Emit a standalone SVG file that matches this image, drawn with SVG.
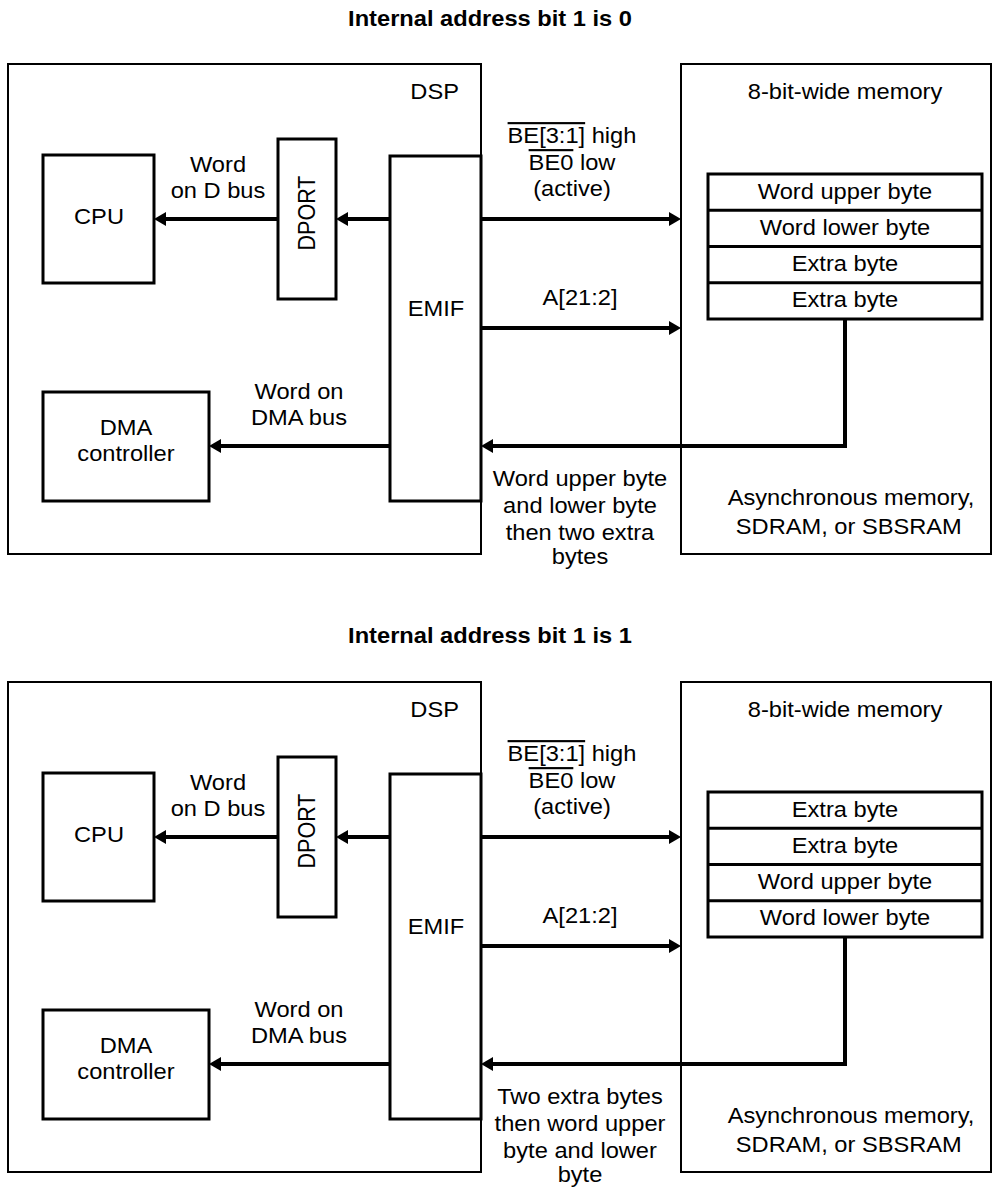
<svg xmlns="http://www.w3.org/2000/svg" width="999" height="1192" viewBox="0 0 999 1192">
<style>
text{font-family:"Liberation Sans",Arial,Helvetica,sans-serif;font-size:21.5px;fill:#000}
.t{font-weight:bold}
.m{text-anchor:middle}
.e{text-anchor:end}
.ol{text-decoration:overline}
.thin{fill:none;stroke:#000;stroke-width:2}
.box{fill:#fff;stroke:#000;stroke-width:3}
.div{stroke:#000;stroke-width:3}
.conn{fill:none;stroke:#000;stroke-width:4;marker-end:url(#ah)}
</style>
<defs>
<marker id="ah" markerUnits="userSpaceOnUse" markerWidth="14" markerHeight="14" refX="6" refY="7" orient="auto">
<path d="M0,0 L12,7 L0,14 z" fill="#000"/>
</marker>
</defs>
<rect width="999" height="1192" fill="#fff"/>

<!-- ===== Section 1 ===== -->
<g id="section0">
<text id="title0" class="t m" transform="translate(490,26) scale(1.1,1)">Internal address bit 1 is 0</text>
<g id="dsp0"><rect class="thin" x="8" y="64" width="473" height="490"/><text class="e" transform="translate(459,99) scale(1.1,1)">DSP</text></g>
<g id="mem0"><rect class="thin" x="681" y="64" width="310" height="490"/>
<text class="m" transform="translate(845,99) scale(1.1,1)">8-bit-wide memory</text>
<text class="m" transform="translate(851,505) scale(1.1,1)"><tspan x="0" y="0">Asynchronous memory,</tspan><tspan x="-2" y="29">SDRAM, or SBSRAM</tspan></text></g>
<g id="cpu0"><rect class="box" x="43" y="155" width="111" height="128"/><text class="m" transform="translate(99,224) scale(1.1,1)">CPU</text></g>
<g id="dport0"><rect class="box" x="278" y="139" width="58" height="160"/><text class="m" transform="translate(315,213) rotate(-90) scale(1,1.12)">DPORT</text></g>
<g id="dma0"><rect class="box" x="43" y="392" width="166" height="109"/><text class="m" transform="translate(126,435) scale(1.1,1)"><tspan x="0" y="0">DMA</tspan><tspan x="0" y="26.5">controller</tspan></text></g>
<g id="stack0"><rect class="box" x="708" y="174" width="274" height="145"/>
<line class="div" x1="708" y1="210.25" x2="982" y2="210.25"/><line class="div" x1="708" y1="246.5" x2="982" y2="246.5"/><line class="div" x1="708" y1="282.75" x2="982" y2="282.75"/>
<text class="m" transform="translate(845,198.5) scale(1.1,1)">Word upper byte</text>
<text class="m" transform="translate(845,234.5) scale(1.1,1)">Word lower byte</text>
<text class="m" transform="translate(845,271) scale(1.1,1)">Extra byte</text>
<text class="m" transform="translate(845,307) scale(1.1,1)">Extra byte</text></g>
<g id="emif0"><rect class="box" x="390" y="156" width="91" height="345"/><text class="m" transform="translate(436,316) scale(1.1,1)">EMIF</text></g>
<g id="connectors0">
<path class="conn" d="M390,219 H342"/>
<path class="conn" d="M278,219 H160"/>
<path class="conn" d="M481,219 H675"/>
<path class="conn" d="M481,328 H675"/>
<path class="conn" d="M845,319 V446 H487"/>
<path class="conn" d="M390,446 H215"/>
<text class="m" transform="translate(218,172) scale(1.1,1)"><tspan x="0" y="0">Word</tspan><tspan x="0" y="26">on D bus</tspan></text>
<text class="m" transform="translate(572,143) scale(1.1,1)"><tspan x="0" y="0"><tspan class="ol">BE[3:1]</tspan> high</tspan><tspan x="0" y="27"><tspan class="ol">BE0</tspan> low</tspan><tspan x="0" y="53">(active)</tspan></text>
<text class="m" transform="translate(580,305) scale(1.1,1)">A[21:2]</text>
<text class="m" transform="translate(299,399) scale(1.1,1)"><tspan x="0" y="0">Word on</tspan><tspan x="0" y="26">DMA bus</tspan></text>
<text class="m" transform="translate(580,486) scale(1.1,1)"><tspan x="0" y="0">Word upper byte</tspan><tspan x="0" y="27">and lower byte</tspan><tspan x="0" y="54">then two extra</tspan><tspan x="0" y="78">bytes</tspan></text>
</g>
</g>

<!-- ===== Section 2 ===== -->
<g id="section1" transform="translate(0,618)">
<text id="title1" class="t m" transform="translate(490,25) scale(1.1,1)">Internal address bit 1 is 1</text>
<g id="dsp1"><rect class="thin" x="8" y="64" width="473" height="490"/><text class="e" transform="translate(459,99) scale(1.1,1)">DSP</text></g>
<g id="mem1"><rect class="thin" x="681" y="64" width="310" height="490"/>
<text class="m" transform="translate(845,99) scale(1.1,1)">8-bit-wide memory</text>
<text class="m" transform="translate(851,505) scale(1.1,1)"><tspan x="0" y="0">Asynchronous memory,</tspan><tspan x="-2" y="29">SDRAM, or SBSRAM</tspan></text></g>
<g id="cpu1"><rect class="box" x="43" y="155" width="111" height="128"/><text class="m" transform="translate(99,224) scale(1.1,1)">CPU</text></g>
<g id="dport1"><rect class="box" x="278" y="139" width="58" height="160"/><text class="m" transform="translate(315,213) rotate(-90) scale(1,1.12)">DPORT</text></g>
<g id="dma1"><rect class="box" x="43" y="392" width="166" height="109"/><text class="m" transform="translate(126,435) scale(1.1,1)"><tspan x="0" y="0">DMA</tspan><tspan x="0" y="26.5">controller</tspan></text></g>
<g id="stack1"><rect class="box" x="708" y="174" width="274" height="145"/>
<line class="div" x1="708" y1="210.25" x2="982" y2="210.25"/><line class="div" x1="708" y1="246.5" x2="982" y2="246.5"/><line class="div" x1="708" y1="282.75" x2="982" y2="282.75"/>
<text class="m" transform="translate(845,198.5) scale(1.1,1)">Extra byte</text>
<text class="m" transform="translate(845,234.5) scale(1.1,1)">Extra byte</text>
<text class="m" transform="translate(845,271) scale(1.1,1)">Word upper byte</text>
<text class="m" transform="translate(845,307) scale(1.1,1)">Word lower byte</text></g>
<g id="emif1"><rect class="box" x="390" y="156" width="91" height="345"/><text class="m" transform="translate(436,316) scale(1.1,1)">EMIF</text></g>
<g id="connectors1">
<path class="conn" d="M390,219 H342"/>
<path class="conn" d="M278,219 H160"/>
<path class="conn" d="M481,219 H675"/>
<path class="conn" d="M481,328 H675"/>
<path class="conn" d="M845,319 V446 H487"/>
<path class="conn" d="M390,446 H215"/>
<text class="m" transform="translate(218,172) scale(1.1,1)"><tspan x="0" y="0">Word</tspan><tspan x="0" y="26">on D bus</tspan></text>
<text class="m" transform="translate(572,143) scale(1.1,1)"><tspan x="0" y="0"><tspan class="ol">BE[3:1]</tspan> high</tspan><tspan x="0" y="27"><tspan class="ol">BE0</tspan> low</tspan><tspan x="0" y="53">(active)</tspan></text>
<text class="m" transform="translate(580,305) scale(1.1,1)">A[21:2]</text>
<text class="m" transform="translate(299,399) scale(1.1,1)"><tspan x="0" y="0">Word on</tspan><tspan x="0" y="26">DMA bus</tspan></text>
<text class="m" transform="translate(580,486) scale(1.1,1)"><tspan x="0" y="0">Two extra bytes</tspan><tspan x="0" y="27">then word upper</tspan><tspan x="0" y="54">byte and lower</tspan><tspan x="0" y="78">byte</tspan></text>
</g>
</g>
</svg>
